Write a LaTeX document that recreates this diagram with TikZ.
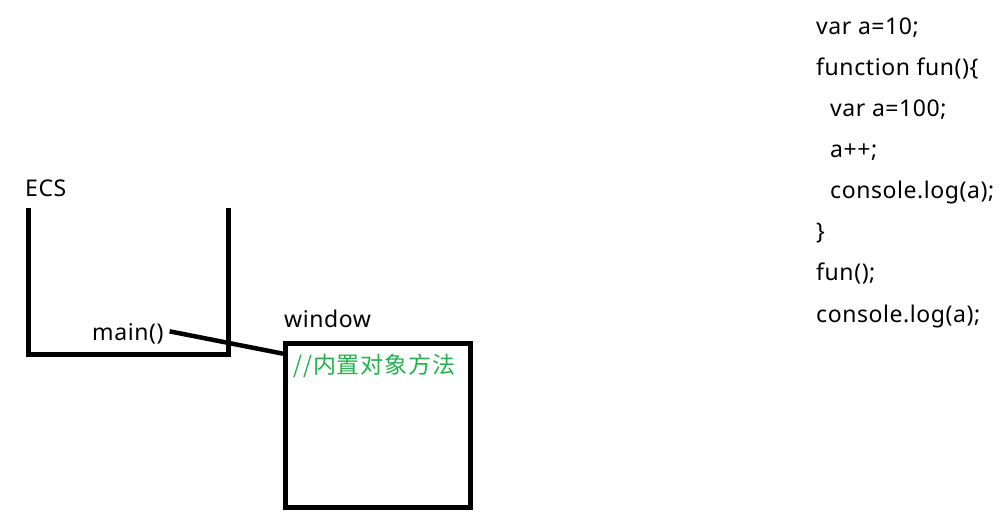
\documentclass[tikz,border=0pt]{standalone}
\usepackage{fontspec}
\setmainfont{Noto Sans}[LetterSpace=2.5]
\newfontfamily\cjk{Noto Sans CJK SC}[LetterSpace=4]
\usetikzlibrary{calc}
\definecolor{paintgreen}{RGB}{34,177,76}
\begin{document}
\begin{tikzpicture}[x=1pt,y=-1pt,
  lbl/.style={anchor=base west,inner sep=0pt,font=\fontsize{23}{27}\selectfont},
  thick line/.style={line width=5pt,black}]
\useasboundingbox (0,0) rectangle (1008,532);
% ECS container
\coordinate (ecsTL) at (28,208);
\coordinate (ecsBL) at (28,354.5);
\coordinate (ecsBR) at (228.5,354.5);
\coordinate (ecsTR) at (228.5,208);
\draw[thick line] (ecsTL) -- (ecsBL) -- (ecsBR) -- (ecsTR);
\node[lbl] (ecs) at (25,196) {ECS};
\node[lbl] (main) at (92,340) {main()};
% window box
\node[draw,line width=5pt,minimum width=185pt,minimum height=164pt,inner sep=0pt,anchor=north west] (win) at (283,341) {};
\node[lbl] (winlbl) at (284,327) {window};
\node[anchor=west,inner sep=0pt,text=paintgreen,font=\fontsize{23}{27}\selectfont\cjk] (builtin) at (293,366) {//内置对象方法};
\draw[line width=4.5pt] ($(main.east)+(6,-2)$) -- ($(win.north west)!0.075!(win.south west)$);
% code
\node[lbl] (c1) at (816,35) {var a=10;};
\node[lbl] (c2) at (816,76) {function fun()\{};
\node[lbl] (c3) at (830,117) {var a=100;};
\node[lbl] (c4) at (830,157) {a++;};
\node[lbl] (c5) at (830,198) {console.log(a);};
\node[lbl] (c6) at (816,239) {\}};
\node[lbl] (c7) at (816,280) {fun();};
\node[lbl] (c8) at (816,322) {console.log(a);};
\end{tikzpicture}
\end{document}
